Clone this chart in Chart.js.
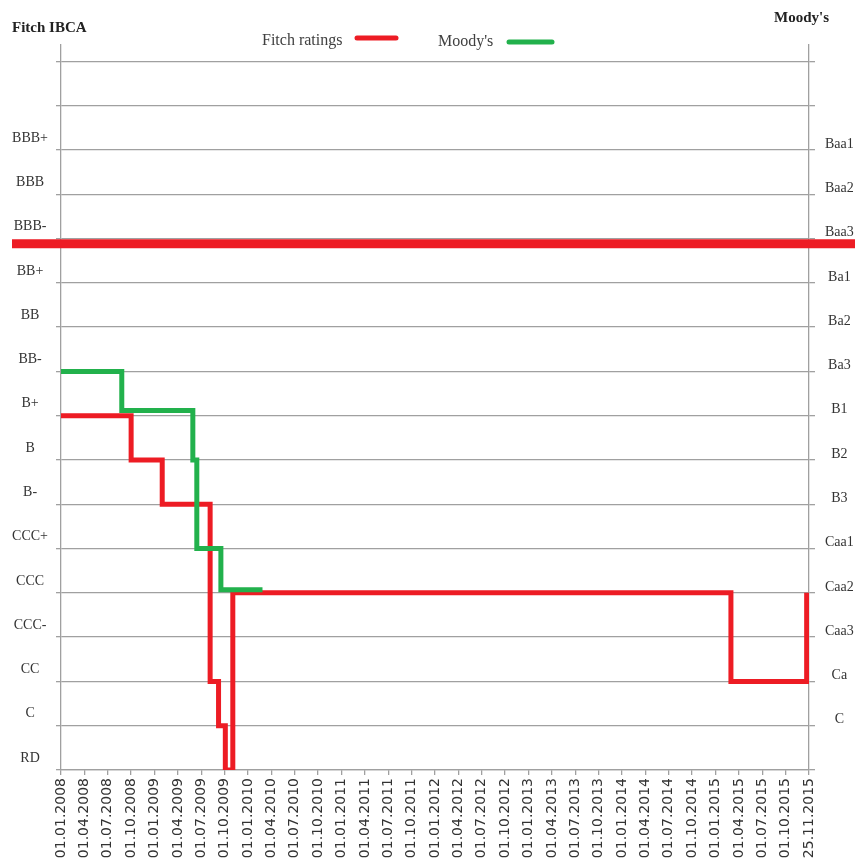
<!DOCTYPE html>
<html>
<head>
<meta charset="utf-8">
<script src="https://cdn.jsdelivr.net/npm/chart.js@4/dist/chart.umd.min.js"></script>
<style>
  body { margin: 0; background: #fff; }
</style>
</head>
<body>
<canvas id="ratings-chart" width="855" height="868"></canvas>
<script>
// dates on the x axis, one per position 0..32
const dates = [
  "01.01.2008", "01.04.2008", "01.07.2008", "01.10.2008",
  "01.01.2009", "01.04.2009", "01.07.2009", "01.10.2009",
  "01.01.2010", "01.04.2010", "01.07.2010", "01.10.2010",
  "01.01.2011", "01.04.2011", "01.07.2011", "01.10.2011",
  "01.01.2012", "01.04.2012", "01.07.2012", "01.10.2012",
  "01.01.2013", "01.04.2013", "01.07.2013", "01.10.2013",
  "01.01.2014", "01.04.2014", "01.07.2014", "01.10.2014",
  "01.01.2015", "01.04.2015", "01.07.2015", "01.10.2015",
  "25.11.2015"
];

// rating scales, level 0 = RD
const fitchScale = ["RD", "C", "CC", "CCC-", "CCC", "CCC+", "B-", "B", "B+",
  "BB-", "BB", "BB+", "BBB-", "BBB", "BBB+", "", ""];
const moodysScale = ["", "C", "Ca", "Caa3", "Caa2", "Caa1", "B3", "B2", "B1",
  "Ba3", "Ba2", "Ba1", "Baa3", "Baa2", "Baa1", "", ""];

// step points: x = position on the date axis, y = rating level
const fitchX = [0, 3, 4.33, 6.38, 6.74, 7.03, 7.35, 28.66, 31.9];
const fitchY = [8, 7, 6, 2, 1, 0, 4, 2, 4];
const moodysX = [0, 2.6, 5.64, 5.81, 6.84, 8.62];
const moodysY = [9, 8.12, 7, 5, 4.07, 4.07];

const investmentGrade = 11.88;   // the thick red boundary line

const gridColor = "#a0a0a0";
const serif = "'Liberation Serif', 'Times New Roman', serif";

const decorations = {
  id: "decorations",
  beforeDatasetsDraw(chart) {
    // investment grade boundary, runs across the whole picture
    const ctx = chart.ctx;
    const y = chart.scales.y.getPixelForValue(investmentGrade);
    ctx.save();
    ctx.strokeStyle = "#ed1c24";
    ctx.lineWidth = 9;
    ctx.beginPath();
    ctx.moveTo(12, y);
    ctx.lineTo(chart.width, y);
    ctx.stroke();
    ctx.restore();
  },
  afterDraw(chart) {
    const ctx = chart.ctx;
    const ds = chart.data.datasets;
    ctx.save();
    ctx.textBaseline = "middle";
    ctx.textAlign = "left";

    // axis titles
    ctx.fillStyle = "#222";
    ctx.font = "bold 15px " + serif;
    ctx.fillText("Fitch IBCA", 12, 28);
    ctx.fillText("Moody's", 774, 18);

    // legend: text first, then the line sample
    ctx.fillStyle = "#404040";
    ctx.font = "16px " + serif;
    ctx.lineCap = "round";
    ctx.lineWidth = 5;

    ctx.fillText(ds[0].label, 262, 41);
    ctx.strokeStyle = ds[0].borderColor;
    ctx.beginPath(); ctx.moveTo(357, 38); ctx.lineTo(396, 38); ctx.stroke();

    ctx.fillText(ds[1].label, 438, 42);
    ctx.strokeStyle = ds[1].borderColor;
    ctx.beginPath(); ctx.moveTo(509, 42); ctx.lineTo(552, 42); ctx.stroke();

    ctx.restore();
  }
};

const levelTicks = scale => {
  scale.ticks = fitchScale.map((_, i) => ({ value: i }));
};

const config = {
  type: "line",
  data: {
    datasets: [{
      label: "Fitch ratings",
      data: fitchX.map((x, i) => ({ x: x, y: fitchY[i] })),
      borderColor: "#ed1c24",
      borderWidth: 5,
      stepped: "before",
      pointRadius: 0,
      fill: false,
      order: 1
    }, {
      label: "Moody's",
      data: moodysX.map((x, i) => ({ x: x, y: moodysY[i] })),
      borderColor: "#22b14c",
      borderWidth: 5,
      stepped: "before",
      pointRadius: 0,
      fill: false,
      order: 0
    }]
  },
  options: {
    responsive: false,
    animation: false,
    layout: { padding: { top: 45 } },
    scales: {
      x: {
        type: "linear",
        min: 0,
        max: dates.length - 1,
        afterBuildTicks: s => { s.ticks = dates.map((_, i) => ({ value: i })); },
        afterFit: s => { s.height = 98; },
        grid: { drawOnChartArea: false, color: gridColor, lineWidth: 1.3, tickLength: 5 },
        border: { color: gridColor, width: 1.3 },
        ticks: {
          autoSkip: false,
          minRotation: 90,
          maxRotation: 90,
          padding: 3,
          color: "#333",
          font: { family: "'DejaVu Sans', sans-serif", size: 14 },
          callback: (v, i) => dates[i]
        }
      },
      y: {
        position: "left",
        min: 0,
        max: 16.37,
        afterBuildTicks: levelTicks,
        afterFit: s => { s.width = 61; },
        grid: { color: gridColor, lineWidth: 1.3, tickLength: 5 },
        border: { color: gridColor, width: 1.3 },
        ticks: {
          crossAlign: "center",
          padding: 8,
          labelOffset: -12,
          color: "#333",
          font: { family: serif, size: 14 },
          callback: (v, i) => fitchScale[i]
        }
      },
      y1: {
        position: "right",
        min: 0,
        max: 16.37,
        afterBuildTicks: levelTicks,
        afterFit: s => { s.width = 46; },
        grid: { drawOnChartArea: false, color: gridColor, lineWidth: 1.3, tickLength: 6 },
        border: { color: gridColor, width: 1.3 },
        ticks: {
          crossAlign: "center",
          padding: 10,
          labelOffset: -6,
          color: "#333",
          font: { family: serif, size: 14 },
          callback: (v, i) => moodysScale[i]
        }
      }
    },
    plugins: {
      legend: { display: false },
      tooltip: { enabled: false }
    }
  },
  plugins: [decorations]
};

new Chart(document.getElementById("ratings-chart"), config);
</script>
</body>
</html>
